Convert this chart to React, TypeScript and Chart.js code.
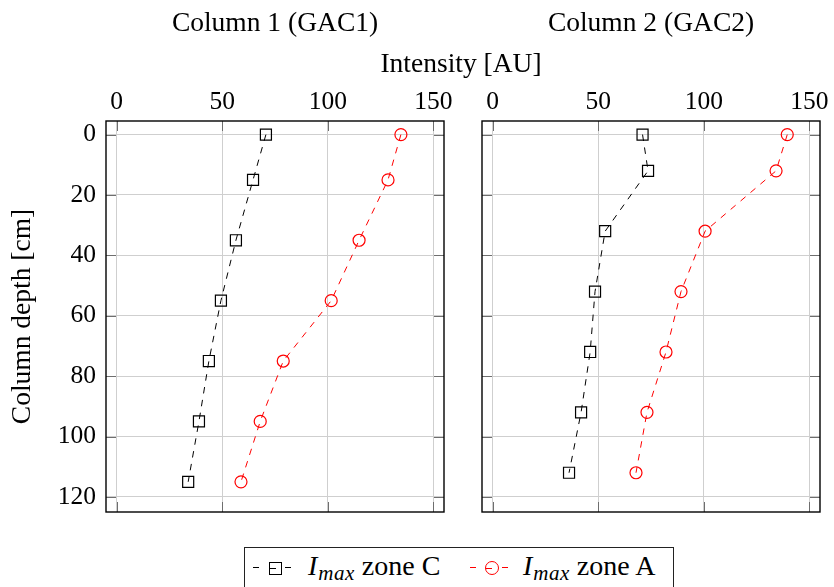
import React, { useEffect, useRef } from "react";
import { Chart, registerables } from "chart.js";

Chart.register(...registerables);

const FONT = "'Liberation Serif', 'DejaVu Serif', serif";

// ---- data ----
const xTicks = [0, 50, 100, 150];
const yTicks = [0, 20, 40, 60, 80, 100, 120];
const panelTitles = ["Column 1 (GAC1)", "Column 2 (GAC2)"];
const xLabel = "Intensity [AU]";
const yLabel = "Column depth [cm]";
const seriesNames = ["zone C", "zone A"];

const depth1 = [0, 15, 35, 55, 75, 95, 115];
const zoneC1 = [70.7, 64.6, 56.5, 49.4, 43.7, 39.0, 33.9];
const zoneA1 = [134.6, 128.5, 114.8, 101.6, 78.9, 68.0, 58.9];

const depth2 = [0, 12, 32, 52, 72, 92, 112];
const zoneC2 = [71.0, 73.6, 53.3, 48.5, 46.2, 41.9, 36.2];
const zoneA2 = [139.5, 134.2, 100.6, 89.2, 82.1, 73.1, 67.9];

const RED = "rgb(255,0,0)";
const LABEL_SIZE = 27.5;
const TICK_SIZE = 25.5;
const TITLE_PAD = 7;
const TITLE_H = TITLE_PAD + LABEL_SIZE * 1.2;

const framePlugin = {
  id: "frameTicks",
  beforeDatasetsDraw(chart: any) {
    const { ctx, chartArea } = chart;
    const { left, right, top, bottom } = chartArea;
    const xs = chart.scales.x;
    const ys = chart.scales.y;
    ctx.save();
    ctx.strokeStyle = "#6e6e6e";
    ctx.lineWidth = 1;
    ctx.beginPath();
    for (const v of xTicks) {
      const px = Math.round(xs.getPixelForValue(v)) + 0.5;
      ctx.moveTo(px, top);
      ctx.lineTo(px, top + 10);
      ctx.moveTo(px, bottom);
      ctx.lineTo(px, bottom - 10);
    }
    for (const v of yTicks) {
      const py = Math.round(ys.getPixelForValue(v)) + 0.5;
      ctx.moveTo(left, py);
      ctx.lineTo(left + 10, py);
      ctx.moveTo(right, py);
      ctx.lineTo(right - 10, py);
    }
    ctx.stroke();
    ctx.strokeStyle = "#000";
    ctx.lineWidth = 1.4;
    ctx.strokeRect(left, top, right - left, bottom - top);
    ctx.restore();
  },
};

function makeConfig(
  depth: number[],
  c: number[],
  a: number[],
  title: string,
  first: boolean
): any {
  const tickFont = { family: FONT, size: TICK_SIZE, weight: "normal" as const };
  const labelFont = { family: FONT, size: LABEL_SIZE, weight: "normal" as const, lineHeight: 1.2 };
  return {
    type: "scatter",
    data: {
      datasets: [
        {
          label: seriesNames[0],
          data: depth.map((d, i) => ({ x: c[i], y: d })),
          showLine: true,
          borderColor: "#000",
          borderWidth: 1,
          borderDash: [6.5, 6.5],
          pointStyle: "rect",
          pointRadius: 7.8,
          pointHoverRadius: 7.8,
          pointBorderColor: "#000",
          pointBackgroundColor: "rgba(0,0,0,0)",
          pointBorderWidth: 1.2,
        },
        {
          label: seriesNames[1],
          data: depth.map((d, i) => ({ x: a[i], y: d })),
          showLine: true,
          borderColor: RED,
          borderWidth: 1,
          borderDash: [6.5, 6.5],
          pointStyle: "circle",
          pointRadius: 6,
          pointHoverRadius: 6,
          pointBorderColor: RED,
          pointBackgroundColor: "rgba(0,0,0,0)",
          pointBorderWidth: 1.2,
        },
      ],
    },
    options: {
      animation: false,
      responsive: false,
      devicePixelRatio: 1,
      events: [],
      layout: {
        padding: { left: 0, top: 0, right: first ? 16 : 14, bottom: 18 },
      },
      plugins: {
        legend: { display: false },
        tooltip: { enabled: false },
        title: {
          display: true,
          text: title,
          fullSize: false,
          color: "#000",
          font: labelFont,
          padding: { top: TITLE_PAD, bottom: 0 },
        },
      },
      scales: {
        x: {
          type: "linear",
          position: "top",
          min: -5,
          max: 155,
          afterBuildTicks: (s: any) => {
            s.ticks = xTicks.map((v) => ({ value: v }));
          },
          afterFit: (s: any) => {
            s.height = 121 - TITLE_H;
            s.paddingLeft = 0;
            s.paddingRight = 0;
          },
          ticks: { color: "#000", font: tickFont, padding: 3, maxRotation: 0 },
          grid: { color: "#cfcfcf", lineWidth: 1, drawTicks: false },
          border: { display: false },
        },
        y: {
          type: "linear",
          position: "left",
          reverse: true,
          min: -4.5,
          max: 125,
          afterBuildTicks: (s: any) => {
            s.ticks = yTicks.map((v) => ({ value: v }));
          },
          afterFit: (s: any) => {
            s.width = first ? 106 : 22;
            s.paddingTop = 0;
            s.paddingBottom = 0;
          },
          ticks: { display: first, color: "#000", font: tickFont, padding: 10 },
          title: {
            display: first,
            text: yLabel,
            color: "#000",
            font: labelFont,
            padding: { top: 6, bottom: 0 },
          },
          grid: { color: "#cfcfcf", lineWidth: 1, drawTicks: false },
          border: { display: false },
        },
      },
    },
    plugins: [framePlugin],
  };
}

function Sample({ color, shape }: { color: string; shape: "rect" | "circle" }) {
  const dash = (left: number) => (
    <span
      style={{
        position: "absolute",
        left,
        top: 9,
        width: 6,
        height: 1.2,
        background: color,
      }}
    />
  );
  return (
    <span style={{ position: "absolute", left: 0, top: 0, width: 40, height: 20 }}>
      {dash(0)}
      <span
        style={{
          position: "absolute",
          left: shape === "rect" ? 16 : 15,
          top: shape === "rect" ? 3.5 : 3,
          width: shape === "rect" ? 11 : 12,
          height: shape === "rect" ? 11 : 12,
          border: `1.2px solid ${color}`,
          borderRadius: shape === "circle" ? "50%" : 0,
          boxSizing: "content-box",
        }}
      >
        <span
          style={{
            position: "absolute",
            left: 0,
            top: shape === "rect" ? 5 : 5.5,
            width: 6,
            height: 1,
            background: color,
          }}
        />
      </span>
      {dash(32)}
    </span>
  );
}

function LegendText({ name }: { name: string }) {
  return (
    <span style={{ whiteSpace: "nowrap", fontSize: 28, lineHeight: "30px", color: "#000" }}>
      <span style={{ fontStyle: "italic" }}>I</span>
      <span style={{ fontStyle: "italic", fontSize: 21, position: "relative", top: 5, marginLeft: 1, letterSpacing: 0.5 }}>
        max
      </span>
      {" " + name}
    </span>
  );
}

export default function App() {
  const refA = useRef<HTMLCanvasElement>(null);
  const refB = useRef<HTMLCanvasElement>(null);

  useEffect(() => {
    const a = new Chart(refA.current as HTMLCanvasElement, makeConfig(depth1, zoneC1, zoneA1, panelTitles[0], true));
    const b = new Chart(refB.current as HTMLCanvasElement, makeConfig(depth2, zoneC2, zoneA2, panelTitles[1], false));
    return () => {
      a.destroy();
      b.destroy();
    };
  }, []);

  return (
    <div
      style={{
        position: "fixed",
        left: 0,
        top: 0,
        width: 834,
        height: 587,
        overflow: "hidden",
        background: "#fff",
        fontFamily: FONT,
      }}
    >
      <canvas
        ref={refA}
        width={460}
        height={530}
        style={{ position: "absolute", left: 0, top: 0, width: 460, height: 530, display: "block" }}
      />
      <canvas
        ref={refB}
        width={374}
        height={530}
        style={{ position: "absolute", left: 460, top: 0, width: 374, height: 530, display: "block" }}
      />
      <div
        style={{
          position: "absolute",
          left: 311,
          top: 48,
          width: 300,
          textAlign: "center",
          fontSize: LABEL_SIZE,
          lineHeight: "30px",
          color: "#000",
          whiteSpace: "nowrap",
        }}
      >
        {xLabel}
      </div>
      <div
        style={{
          position: "absolute",
          left: 244,
          top: 547,
          width: 430,
          height: 45,
          border: "1.2px solid #222",
          boxSizing: "border-box",
        }}
      >
        <span style={{ position: "absolute", left: 8, top: 10 }}>
          <Sample color="#000" shape="rect" />
        </span>
        <span style={{ position: "absolute", left: 63, top: 3 }}>
          <LegendText name={seriesNames[0]} />
        </span>
        <span style={{ position: "absolute", left: 225, top: 10 }}>
          <Sample color={RED} shape="circle" />
        </span>
        <span style={{ position: "absolute", left: 278, top: 3 }}>
          <LegendText name={seriesNames[1]} />
        </span>
      </div>
    </div>
  );
}
